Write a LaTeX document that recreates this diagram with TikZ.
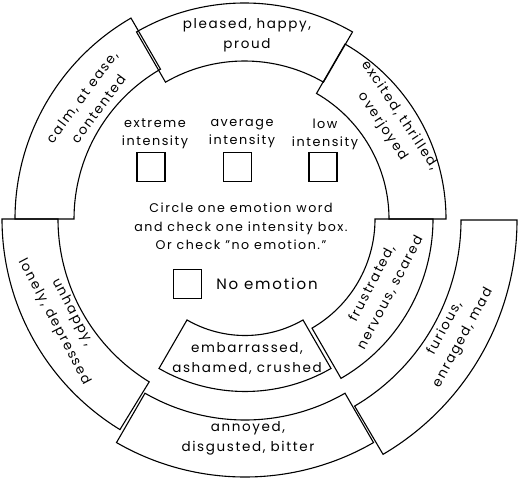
\documentclass[tikz,border=0pt]{standalone}
\usepackage{fontspec}
\setmainfont{Poppins}[LetterSpace=12]
\tikzset{
  sec/.style={draw=black, line width=1.1pt, line join=miter},
  lbl/.style={align=center, inner sep=0pt, font=\fontsize{13.5}{20}\selectfont},
  rlbl/.style={lbl, font=\fontsize{13.3}{20.5}\selectfont},
  small/.style={lbl, font=\fontsize{12.8}{18}\selectfont},
  chk/.style={draw=black, line width=1.2pt, minimum width=28pt, minimum height=29pt, inner sep=0pt}
}
% #1 cx, #2 cy, #3 inner r, #4 outer R, #5 start angle, #6 end angle
\newcommand{\emosector}[6]{%
  \draw[sec] ([shift={(#1,#2)}]#5:#4pt) arc[start angle=#5, end angle=#6, radius=#4pt]
    -- ([shift={(#1,#2)}]#6:#3pt) arc[start angle=#6, end angle=#5, radius=#3pt] -- cycle;}
\begin{document}
\begin{tikzpicture}[x=1pt, y=1pt]
\useasboundingbox (0,0) rectangle (518,477);
% sectors
\emosector{247}{258}{173}{232}{120}{180}   % calm
\emosector{244.5}{258}{158}{216}{60}{120}  % pleased
\emosector{244}{258}{145}{202}{0}{60}      % excited
\emosector{249}{258}{126}{184}{300}{360}   % frustrated
\emosector{245}{257}{216}{272}{300.5}{360} % furious
\emosector{245}{257}{200}{257}{240}{300}   % annoyed
\emosector{245}{257.5}{116}{172}{240}{300} % embarrassed
\emosector{249}{258}{191}{247}{180}{238.5} % unhappy
% sector labels
\node[lbl] (pleased) at (247,442) {pleased, happy,\\proud};
\node[lbl] (embarr) at (247,119) {embarrassed,\\ashamed, crushed};
\node[lbl] (annoyed) at (248,39) {annoyed,\\disgusted, bitter};
\node[rlbl, rotate=53.5] (calm) at (90,374) {calm, at ease,\\contented};
\node[rlbl, rotate=-56.3] (excited) at (391,356) {excited, thrilled,\\overjoyed};
\node[rlbl, rotate=-62.2] (unhappy) at (63,160) {unhappy,\\lonely, depressed};
\node[rlbl, rotate=62.4] (frustr) at (381,189) {frustrated,\\nervous, scared};
\node[rlbl, rotate=61.4] (furious) at (454,144) {furious,\\enraged, mad};
% intensity
\node[small] (ext) at (155,343) {extreme\\intensity};
\node[small] (avg) at (242,343) {average\\intensity};
\node[small] (low) at (325,343) {low\\intensity};
\node[chk] (b1) at (151,310) {};
\node[chk] (b2) at (237.5,310) {};
\node[chk] (b3) at (323,310) {};
\node[lbl, font=\fontsize{12.6}{18.5}\selectfont] (instr) at (241,250.5) {Circle one emotion word\\and check one intensity box.\\Or check "no emotion."};
\node[chk] (b4) at (187.5,193) {};
\node[lbl, font=\fontsize{15}{18}\selectfont] (noemo) at (267,193) {No emotion};
\end{tikzpicture}
\end{document}
